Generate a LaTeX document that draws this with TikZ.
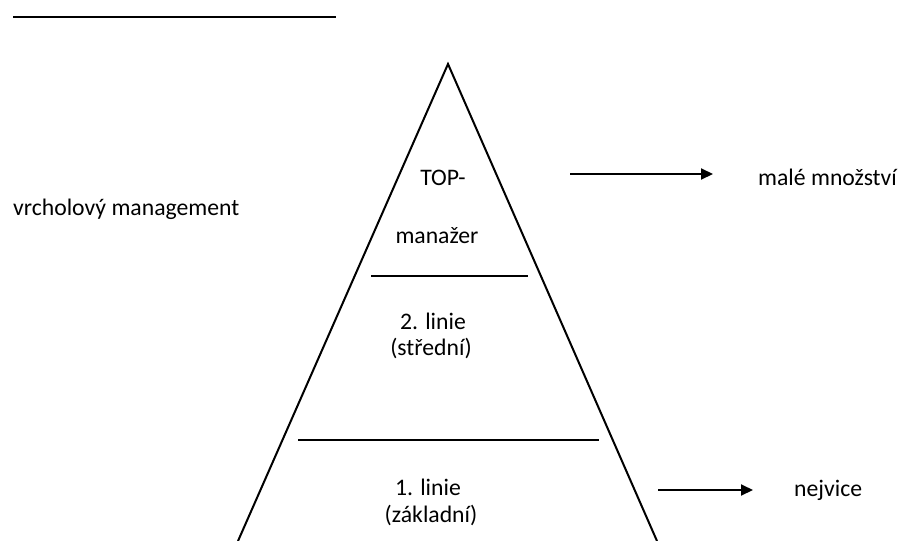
\documentclass[tikz,border=0pt]{standalone}
\usepackage{fontspec}
\setmainfont{Carlito}
\usetikzlibrary{arrows.meta}
\begin{document}
\begin{tikzpicture}[x=1pt,y=-1pt,
  lbl/.style={anchor=base,inner sep=0pt,font=\fontsize{23.7}{28}\selectfont},
  lblw/.style={lbl,anchor=base west},
  edgeline/.style={line width=2pt,line join=miter},
  tier/.style={line width=1.5pt},
  arr/.style={line width=2pt,-{Triangle[length=12pt,width=11pt]}}]
\useasboundingbox (0,0) rectangle (900,541);
% top rule
\coordinate (r1) at (13,17);
\coordinate (r2) at (336,17);
\draw[edgeline] (r1) -- (r2);
% pyramid
\coordinate (apex) at (448,64);
\coordinate (bl) at (238,541);
\coordinate (br) at (657,541);
\draw[edgeline] (bl) -- (apex) -- (br);
% tiers
\coordinate (t1a) at (371,276);
\coordinate (t1b) at (528,276);
\draw[tier] (t1a) -- (t1b);
\coordinate (t2a) at (298,440);
\coordinate (t2b) at (599,440);
\draw[tier] (t2a) -- (t2b);
% labels
\node[lbl] (top) at (443,185) {TOP-};
\node[lbl] (man) at (437,243) {manažer};
\node[lbl] (l2) at (433,329) {2. linie};
\node[lbl] (s2) at (431,355) {(střední)};
\node[lbl] (l1) at (428,495) {1. linie};
\node[lbl] (s1) at (431,522) {(základní)};
\node[lblw] (vm) at (13,215) {vrcholový management};
\node[lblw] (mm) at (758,185) {malé množství};
\node[lblw] (nej) at (794,496) {nejvice};
% arrows
\coordinate (a1s) at (570,174);
\coordinate (a1e) at (713,174);
\draw[arr] (a1s) -- (a1e);
\coordinate (a2s) at (658,490);
\coordinate (a2e) at (753,490);
\draw[arr] (a2s) -- (a2e);
\end{tikzpicture}
\end{document}
